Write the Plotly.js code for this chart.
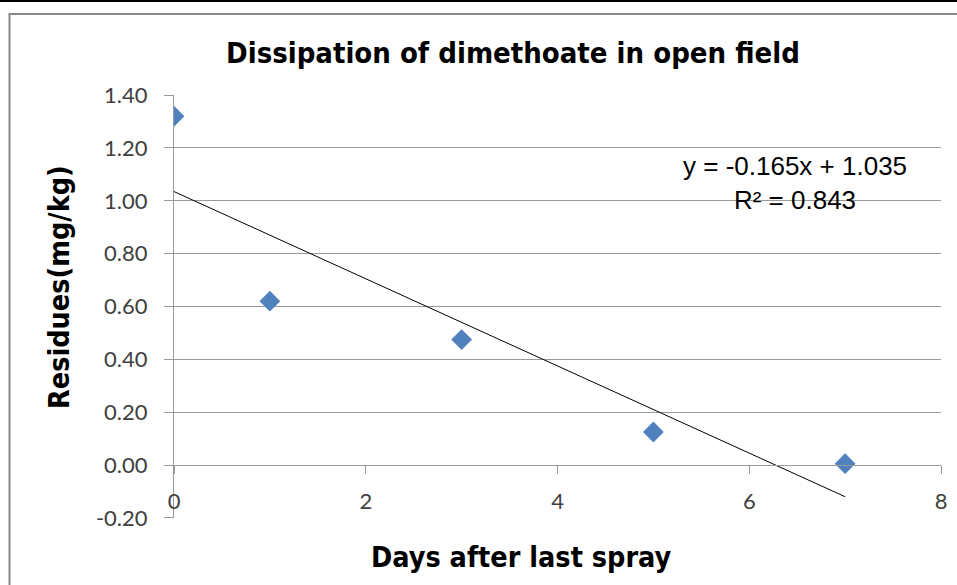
<!DOCTYPE html>
<html><head><meta charset="utf-8">
<script src="https://cdn.plot.ly/plotly-3.0.1.min.js"></script>
<style>html,body{margin:0;padding:0;background:#fff}#chart{width:957px;height:585px}</style>
</head><body><div id="chart"></div>
<script>
var days = [0, 1, 3, 5, 7];
var residues = [1.32, 0.62, 0.475, 0.125, 0.005];
var slope = -0.165, intercept = 1.035, r2 = 0.843;
var trendX = [0, 7];
var trendY = trendX.map(function(x){ return slope * x + intercept; });
var xTicks = [0, 2, 4, 6, 8];
var yTicks = [-0.2, 0, 0.2, 0.4, 0.6, 0.8, 1.0, 1.2, 1.4];
var yTickText = ['-0.20', '0.00', '0.20', '0.40', '0.60', '0.80', '1.00', '1.20', '1.40'];
var chartTitle = 'Dissipation of dimethoate in open field';
var xTitle = 'Days after last spray';
var yTitle = 'Residues(mg/kg)';

var narrow = '"Liberation Sans Narrow", "Arial Narrow", "DejaVu Sans Condensed", sans-serif';
var tickFont = {family: 'Lato, "Open Sans", sans-serif', size: 22, color: '#404040'};
var axisTitleFont = {family: narrow, size: 28.5, color: '#000', weight: 'bold'};

var traces = [
  {x: trendX, y: trendY, type: 'scatter', mode: 'lines', line: {color: '#000', width: 1}, hoverinfo: 'skip'},
  {x: days, y: residues, type: 'scatter', mode: 'markers', marker: {symbol: 'diamond', size: 16, color: '#4F81BD'}}
];

var layout = {
  width: 957, height: 585,
  margin: {l: 174, r: 16, t: 95, b: 67},
  paper_bgcolor: '#fff', plot_bgcolor: '#fff',
  showlegend: false,
  title: {text: chartTitle, font: {family: narrow, size: 29, color: '#000', weight: 'bold'}, x: 0.536, xanchor: 'center', y: 0.91, yanchor: 'middle'},
  xaxis: {
    range: [0, 8], tickvals: xTicks, ticktext: xTicks.map(String),
    showgrid: false, zeroline: false, showline: true, linecolor: '#9a9a9a', linewidth: 1,
    ticks: 'outside', ticklen: 8, tickcolor: '#9a9a9a', tickfont: tickFont, ticklabelstandoff: 8,
    anchor: 'free', position: 0.125
  },
  yaxis: {
    range: [-0.2005, 1.4005], tickvals: yTicks, ticktext: yTickText,
    showgrid: true, gridcolor: '#9a9a9a', gridwidth: 1, zeroline: false,
    showline: true, linecolor: '#9a9a9a', linewidth: 1,
    ticks: 'outside', ticklen: 9, tickcolor: '#9a9a9a', tickfont: tickFont, ticklabelstandoff: 12
  },
  annotations: [
    {xref: 'paper', yref: 'paper', x: 0.81, y: 0.793, text: 'y = -0.165x + 1.035<br>R² = 0.843', showarrow: false,
     font: {family: '"Liberation Sans", Arial, sans-serif', size: 26, color: '#000'}, align: 'center', xanchor: 'center', yanchor: 'middle'},
    {xref: 'paper', yref: 'paper', x: 0.4524, y: -0.0922, text: xTitle, showarrow: false, font: axisTitleFont, xanchor: 'center', yanchor: 'middle'},
    {xref: 'paper', yref: 'paper', x: -0.150, y: 0.546, text: yTitle, showarrow: false, font: axisTitleFont, textangle: -90, xanchor: 'center', yanchor: 'middle'}
  ],
  shapes: [
    {type: 'line', xref: 'paper', yref: 'paper', x0: -0.25, x1: 1.1, y0: 1.2225, y1: 1.2225, line: {color: '#000', width: 2}},
    {type: 'rect', xref: 'paper', yref: 'paper', x0: -0.2145, x1: 1.1, y0: -0.3, y1: 1.1915, line: {color: '#888', width: 2}}
  ]
};
Plotly.newPlot('chart', traces, layout, {displayModeBar: false, staticPlot: true});
</script>
</body></html>
